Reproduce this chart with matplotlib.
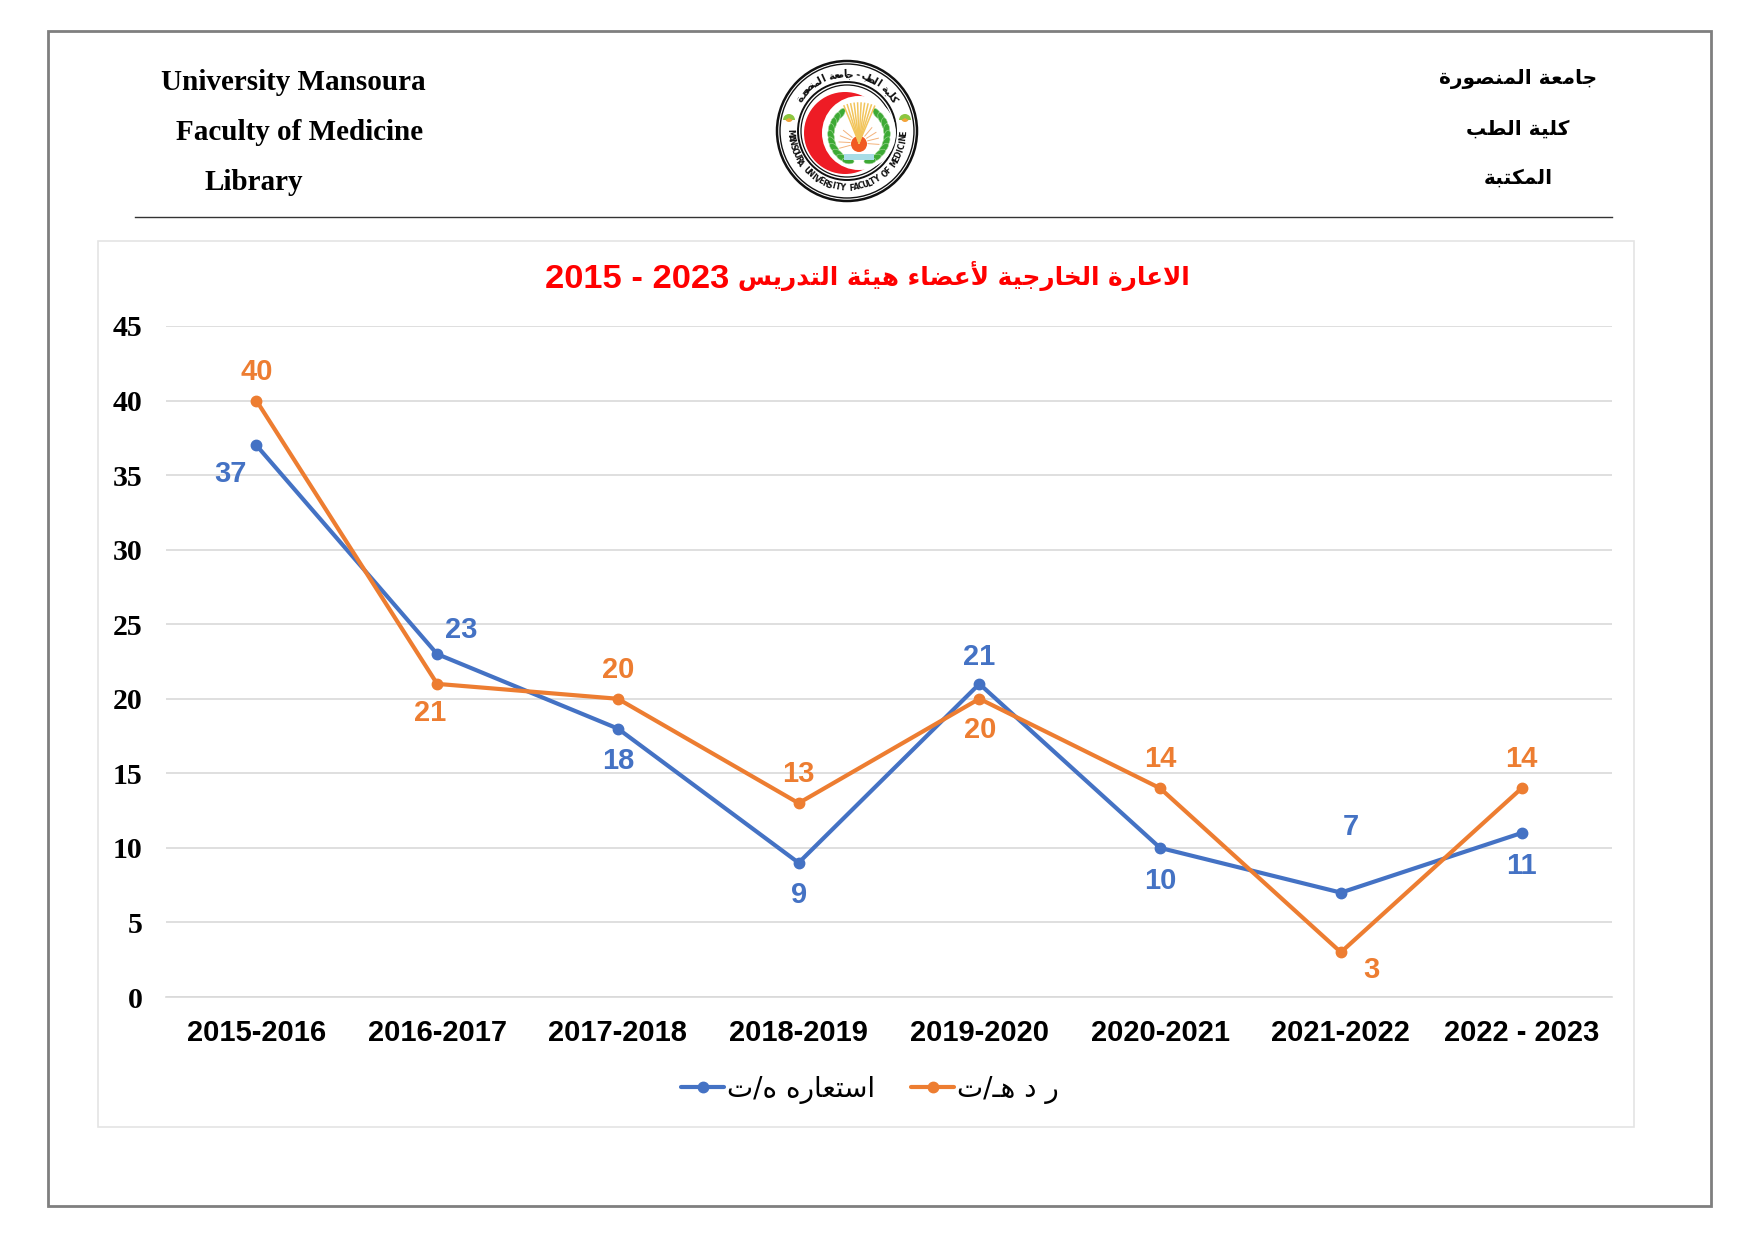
import numpy as np
import matplotlib
matplotlib.use('Agg')
import matplotlib.pyplot as plt
from matplotlib.patches import Circle, Ellipse, Rectangle, Wedge

# data
years = ['2015-2016', '2016-2017', '2017-2018', '2018-2019', '2019-2020', '2020-2021', '2021-2022', '2022 - 2023']
istiara = [37, 23, 18, 9, 21, 10, 7, 11]
radd = [40, 21, 20, 13, 20, 14, 3, 14]
yticks = [0, 5, 10, 15, 20, 25, 30, 35, 40, 45]

title_ar = 'الاعارة الخارجية لأعضاء هيئة التدريس'
title_years = '2015 - 2023'
legend_blue = 'استعاره ه/ت'
legend_orange = 'ر د هـ/ت'
header_en = ['University Mansoura', 'Faculty of Medicine', 'Library']
header_ar = ['جامعة المنصورة', 'كلية الطب', 'المكتبة']
logo_ar = 'كلية الطب - جامعة المنصورة'
logo_en = 'MANSOURA UNIVERSITY FACULTY OF MEDICINE'

BLUE = '#4472C4'
ORANGE = '#ED7D31'

# matplotlib does not join arabic letters, so pick presentation forms by hand
# letter: (isolated, final, initial, medial)
def four(c):
    return (chr(c), chr(c + 1), chr(c + 2), chr(c + 3))

def two(c):
    return (chr(c), chr(c + 1))

dual = {'ئ': four(0xFE89), 'ب': four(0xFE8F), 'ت': four(0xFE95), 'ث': four(0xFE99), 'ج': four(0xFE9D),
        'ح': four(0xFEA1), 'خ': four(0xFEA5), 'س': four(0xFEB1), 'ش': four(0xFEB5), 'ص': four(0xFEB9),
        'ض': four(0xFEBD), 'ط': four(0xFEC1), 'ظ': four(0xFEC5), 'ع': four(0xFEC9), 'غ': four(0xFECD),
        'ف': four(0xFED1), 'ق': four(0xFED5), 'ك': four(0xFED9), 'ل': four(0xFEDD), 'م': four(0xFEE1),
        'ن': four(0xFEE5), 'ه': four(0xFEE9), 'ي': four(0xFEF1)}
right = {'آ': two(0xFE81), 'أ': two(0xFE83), 'ؤ': two(0xFE85), 'إ': two(0xFE87), 'ا': two(0xFE8D),
         'ة': two(0xFE93), 'د': two(0xFEA9), 'ذ': two(0xFEAB), 'ر': two(0xFEAD), 'ز': two(0xFEAF),
         'و': two(0xFEED), 'ى': two(0xFEEF)}
lam_alef = {'ا': two(0xFEFB), 'أ': two(0xFEF7), 'آ': two(0xFEF5), 'إ': two(0xFEF9)}
KASHIDA = 'ـ'

def shape(s):
    out = []
    i = 0
    prev_joins = False
    while i < len(s):
        c = s[i]
        nxt = s[i + 1] if i + 1 < len(s) else ''
        if c == 'ل' and nxt in lam_alef and nxt:
            out.append(lam_alef[nxt][1 if prev_joins else 0])
            prev_joins = False
            i += 2
            continue
        if c == KASHIDA:
            out.append(c)
            prev_joins = True
        elif c in dual:
            next_ok = nxt in dual or nxt in right or nxt == KASHIDA
            if nxt == '':
                next_ok = False
            idx = {(0, 0): 0, (1, 0): 1, (0, 1): 2, (1, 1): 3}[(int(prev_joins), int(next_ok))]
            out.append(dual[c][idx])
            prev_joins = next_ok
        elif c in right:
            out.append(right[c][1 if prev_joins else 0])
            prev_joins = False
        else:
            out.append(c)
            prev_joins = False
        i += 1
    return ''.join(reversed(out))

SANS_B = dict(family=['Liberation Sans', 'DejaVu Sans'], fontweight='bold')
SERIF_B = dict(family=['Liberation Serif', 'DejaVu Serif'], fontweight='bold')

fig = plt.figure(figsize=(17.55, 12.41), dpi=100, facecolor='white')

# page layer in pixels
page = fig.add_axes([0, 0, 1, 1])
page.set_xlim(0, 1755)
page.set_ylim(1241, 0)
page.axis('off')
page.add_patch(Rectangle((48, 31), 1663, 1175, fill=False, ec='#7F7F7F', lw=2))
page.add_patch(Rectangle((98.5, 240.5), 1536, 886, fill=False, ec='#E4E4E4', lw=1.2))
page.plot([135, 1612], [216.5, 216.5], color='#333333', lw=1)

for txt, x, y in zip(header_en, [161, 176, 205], [83, 133, 183]):
    page.text(x, y, txt, fontsize=21, ha='left', va='center', color='black', **SERIF_B)
for txt, x, y in zip(header_ar, [1518, 1518, 1518], [79, 129, 178]):
    page.text(x, y, shape(txt), fontsize=14.5, ha='center', va='center', color='black',
              family='DejaVu Sans', fontweight='bold')

# logo
cx, cy = 847, 131
page.add_patch(Circle((cx, cy), 70, fc='white', ec='#111111', lw=1.8))
page.add_patch(Circle((cx, cy), 67, fc='white', ec='#111111', lw=1))
page.add_patch(Circle((cx, cy), 49, fc='white', ec='#111111', lw=1.4))
page.add_patch(Circle((cx, cy), 46, fc='white', ec='#111111', lw=0.9))
page.add_patch(Circle((cx - 2, cy + 2), 41, fc='#EE1C25', ec='none'))
page.add_patch(Circle((cx + 12, cy + 2), 37, fc='white', ec='none'))

# wreath
for sign in (-1, 1):
    for ang in np.arange(-50, 80, 13):
        a = np.radians(ang)
        lx = cx + 12 + sign * 28 * np.cos(a)
        ly = cy + 4 + 28 * np.sin(a)
        page.add_patch(Ellipse((lx, ly), 6, 12, angle=sign * (ang + 15), fc='#3DAA35', ec='#A8D89E', lw=0.4))
# rays and sun
for ang in np.arange(-112, -66, 5):
    a = np.radians(ang)
    page.plot([cx + 12, cx + 12 + 40 * np.cos(a)], [cy + 12, cy + 12 + 40 * np.sin(a)], color='#F2C55C', lw=1.1)
for ang in list(np.arange(-195, -125, 18)) + list(np.arange(-50, 20, 18)):
    a = np.radians(ang)
    page.plot([cx + 12 + 9 * np.cos(a), cx + 12 + 20 * np.cos(a)],
              [cy + 12 + 9 * np.sin(a), cy + 12 + 20 * np.sin(a)], color='#F3B27A', lw=0.7)
page.add_patch(Circle((cx + 12, cy + 13), 8, fc='#F15A22', ec='none'))
page.add_patch(Rectangle((cx - 3, cy + 23), 30, 6, fc='#A8DDE6', ec='none'))

# small marks either side of the ring
for mx in (cx - 58, cx + 58):
    page.add_patch(Wedge((mx, cy - 11), 6, 180, 360, fc='#8CC63F', ec='none'))
    page.add_patch(Wedge((mx, cy - 13), 4, 30, 150, fc='#F2A33A', ec='none'))

def ring_text(s, radius, start, end, bottom=False, size=6.5):
    angs = np.linspace(start, end, len(s))
    for ch, ang in zip(s, angs):
        a = np.radians(ang)
        x = cx + radius * np.sin(a)
        y = cy - radius * np.cos(a)
        rot = 180 - ang if bottom else -ang
        page.text(x, y, ch, fontsize=size, rotation=rot, rotation_mode='anchor', ha='center', va='center',
                  color='#111111', family='DejaVu Sans', fontweight='bold')

ring_text(shape(logo_ar), 57, -55, 55, size=7.5)
ring_text(logo_en, 57, 268, 92, bottom=True, size=5.6)

# chart
ax = fig.add_axes([166 / 1755, 1 - 997 / 1241, (1612 - 166) / 1755, (997 - 326) / 1241])
ax.patch.set_alpha(0)
x = np.arange(len(years))
ax.plot(x, istiara, color=BLUE, lw=3, marker='o', ms=7.5, label=shape(legend_blue), solid_capstyle='round', zorder=3)
ax.plot(x, radd, color=ORANGE, lw=3, marker='o', ms=7.5, label=shape(legend_orange), solid_capstyle='round', zorder=4)
ax.set_xlim(-0.5, len(years) - 0.5)
ax.set_ylim(0, 45)
ax.set_yticks(yticks)
ax.set_xticks(x)
ax.set_xticklabels(years, fontsize=21, color='black', **SANS_B)
ax.set_yticklabels([str(v) for v in yticks], fontsize=21.5, color='black', **SERIF_B)
ax.grid(axis='y', color='#D9D9D9', lw=1.2)
ax.set_axisbelow(True)
ax.tick_params(length=0)
ax.tick_params(axis='x', pad=16)
ax.tick_params(axis='y', pad=17)
for side in ['top', 'left', 'right']:
    ax.spines[side].set_visible(False)
ax.spines['bottom'].set_color('#D9D9D9')
ax.spines['bottom'].set_linewidth(1.2)

# label offsets in pixels, right and up from the point
blue_off = [(-26, -29), (24, 24), (0, -32), (0, -32), (0, 27), (0, -33), (10, 66), (0, -33)]
orange_off = [(0, 29), (-7, -29), (0, 29), (0, 29), (1, -31), (0, 29), (31, -18), (0, 29)]
for vals, offs, col in [(istiara, blue_off, BLUE), (radd, orange_off, ORANGE)]:
    for xi, v, (dx, dy) in zip(x, vals, offs):
        ax.annotate(str(v), (xi, v), xytext=(dx * 0.72, dy * 0.72), textcoords='offset points',
                    ha='center', va='center', fontsize=21, color=col, zorder=5, **SANS_B)

# title: years sit left of the arabic, latin font for digits
page.text(545, 280, title_years, fontsize=24.8, ha='left', va='center', color='#FF0000', **SANS_B)
page.text(1190, 276, shape(title_ar), fontsize=17.7, ha='right', va='center', color='#FF0000',
          family='DejaVu Sans', fontweight='bold')

leg = ax.legend(loc='center', bbox_to_anchor=((870 - 166) / (1612 - 166), (997 - 1089) / (997 - 326)), ncol=2,
                frameon=False, handlelength=1.55, handletextpad=0.1, columnspacing=1.3,
                prop={'family': 'DejaVu Sans', 'size': 20})

fig.savefig('out.png', dpi=100)
